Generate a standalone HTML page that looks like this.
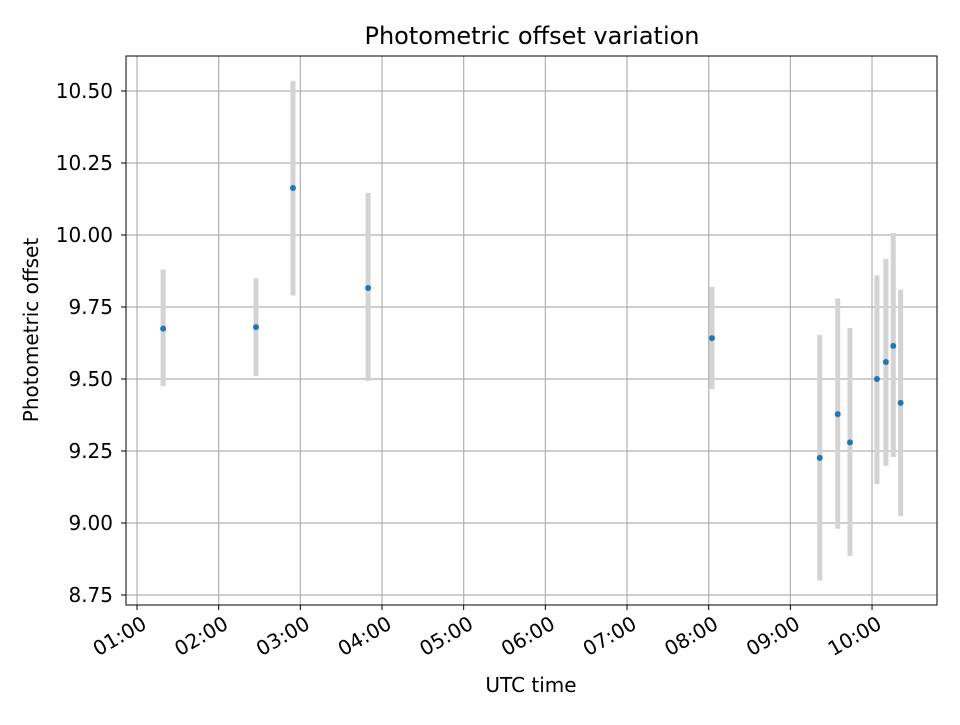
<!DOCTYPE html>
<html><head><meta charset="utf-8"><style>body{margin:0;background:#fff}svg text{font-family:"DejaVu Sans","Liberation Sans",sans-serif}</style></head>
<body>
<svg id="chart" width="960" height="720" xmlns="http://www.w3.org/2000/svg"></svg>
<script>
const times = [1.32,2.457,2.91,3.83,8.04,9.36,9.58,9.73,10.06,10.17,10.26,10.35];
const offsets = [9.675,9.68,10.163,9.816,9.642,9.226,9.378,9.28,9.50,9.559,9.615,9.417];
const errUpper = [9.88,9.85,10.535,10.146,9.82,9.653,9.78,9.677,9.86,9.917,10.007,9.81];
const errLower = [9.475,9.51,9.79,9.493,9.465,8.80,8.98,8.885,9.135,9.198,9.229,9.024];
const yTicks = [8.75,9.00,9.25,9.50,9.75,10.00,10.25,10.50];
const xTicks = [1,2,3,4,5,6,7,8,9,10];
const xTickLabels = ["01:00","02:00","03:00","04:00","05:00","06:00","07:00","08:00","09:00","10:00"];

const L=126,R=937,T=56,B=605;
const xs=h=>137+(h-1)*81.67;
const ys=v=>595-(v-8.75)*288;
const svg=document.getElementById('chart');
const NS='http://www.w3.org/2000/svg';
function mk(tag,attrs,name,parent){const e=document.createElementNS(NS,tag);for(const k in attrs)e.setAttribute(k,attrs[k]);


(parent||svg).appendChild(e);return e;}
mk('rect',{x:0,y:0,width:960,height:720,fill:'#fff'},'background');
const grid=mk('g',{},'grid');
xTicks.forEach((t,i)=>{const x=xs(t);
mk('line',{x1:x,x2:x,y1:T,y2:B,stroke:'#b0b0b0','stroke-width':1.2},'x-gridline',grid);
mk('line',{x1:x,x2:x,y1:B,y2:B+5,stroke:'#000','stroke-width':1},'x-tick',grid);
const tx=mk('text',{x:x+6,y:B+24,'font-size':20,'text-anchor':'end',transform:`rotate(-30 ${x+6} ${B+14})`},'x-tick-label',grid);tx.textContent=xTickLabels[i];});
yTicks.forEach(t=>{const y=ys(t);
mk('line',{x1:L,x2:R,y1:y,y2:y,stroke:'#b0b0b0','stroke-width':1.2},'y-gridline',grid);
mk('line',{x1:L-5,x2:L,y1:y,y2:y,stroke:'#000','stroke-width':1},'y-tick',grid);
const tx=mk('text',{x:L-13,y:y+7,'font-size':20,'text-anchor':'end'},'y-tick-label',grid);tx.textContent=t.toFixed(2);});
const series=mk('g',{},'series');
times.forEach((t,i)=>{const x=xs(t);
mk('line',{x1:x,x2:x,y1:ys(errUpper[i]),y2:ys(errLower[i]),stroke:'#d3d3d3','stroke-width':5},'error-bar',series);});
times.forEach((t,i)=>{mk('circle',{cx:xs(t),cy:ys(offsets[i]),r:3,fill:'#1f77b4'},'data-point',series);});
mk('rect',{x:L,y:T,width:R-L,height:B-T,fill:'none',stroke:'#000','stroke-width':1},'plot-frame');
let e=mk('text',{x:532,y:44,'font-size':24,'text-anchor':'middle'},'chart-title');e.textContent='Photometric offset variation';
e=mk('text',{x:531,y:692,'font-size':20,'text-anchor':'middle'},'x-axis-title');e.textContent='UTC time';
e=mk('text',{x:38,y:330,'font-size':20,'text-anchor':'middle',transform:'rotate(-90 38 330)'},'y-axis-title');e.textContent='Photometric offset';
</script>
</body></html>
